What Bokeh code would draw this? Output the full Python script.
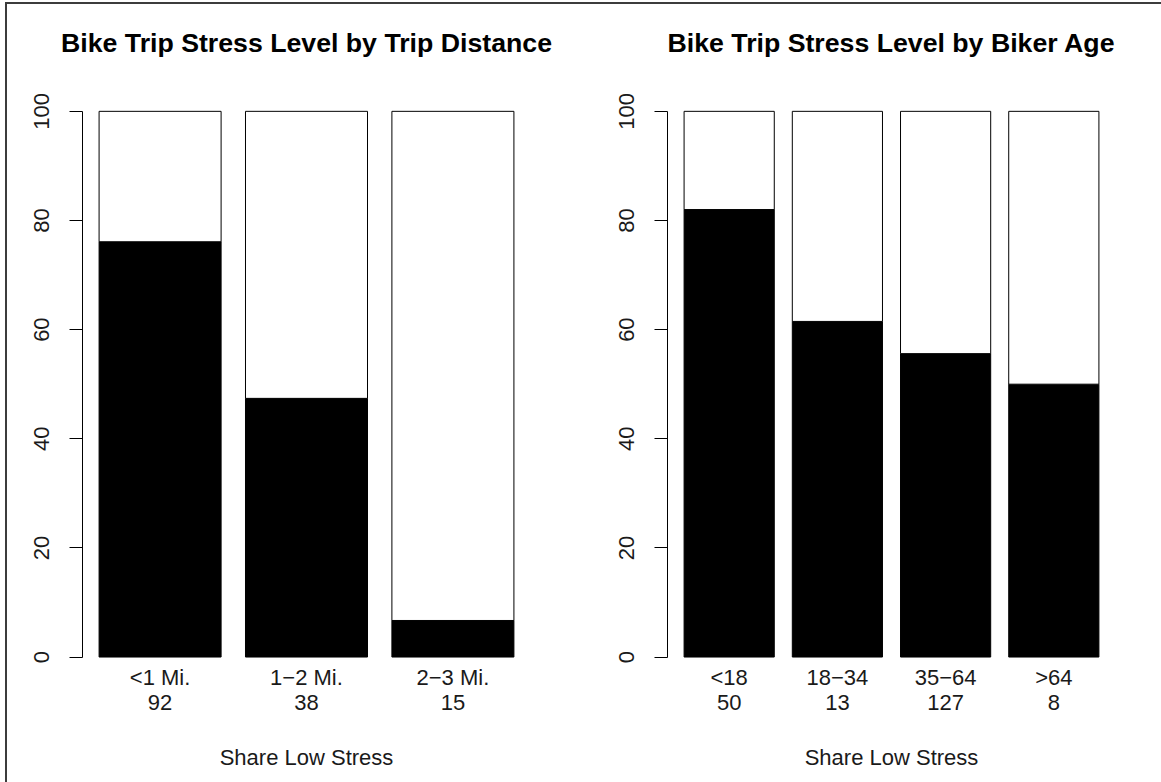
from bokeh.plotting import figure
from bokeh.layouts import row
from bokeh.models import LinearAxis, FixedTicker, Range1d
from bokeh.embed import file_html
from bokeh.resources import INLINE

# ---- data ----
dist_categories = ["<1 Mi.", "1\u22122 Mi.", "2\u22123 Mi."]
dist_n = [92, 38, 15]
dist_share = [76.1, 47.4, 6.7]

age_categories = ["<18", "18\u221234", "35\u221264", ">64"]
age_n = [50, 13, 127, 8]
age_share = [82.0, 61.5, 55.6, 50.0]

y_ticks = [0, 20, 40, 60, 80, 100]

FONT = "Liberation Sans"


def panel(title, cats, counts, shares, width, border_left, border_right):
    k = len(cats)
    centers = [round(0.7 + 1.2 * i, 2) for i in range(k)]
    x0 = 0.2 - 0.04 * (1.2 * k - 0.2)
    x1 = 0.2 + (1.2 * k - 0.2) * 1.04
    p = figure(width=width, height=778, output_backend="svg", toolbar_location=None,
               x_range=Range1d(x0, x1), y_range=Range1d(-1.0, 104.0),
               x_axis_location=None,
               min_border_left=border_left, min_border_right=border_right,
               min_border_top=85, min_border_bottom=120)
    p.outline_line_color = None
    p.xgrid.visible = False
    p.ygrid.visible = False
    p.background_fill_color = "white"
    p.border_fill_color = "white"

    rest = [100 - s for s in shares]
    p.vbar(x=centers, width=1.0, bottom=0, top=shares,
           fill_color="black", line_color="black", line_width=1)
    p.vbar(x=centers, width=1.0, bottom=shares, top=[s + r for s, r in zip(shares, rest)],
           fill_color="white", line_color="black", line_width=1)

    ya = p.yaxis[0]
    ya.ticker = FixedTicker(ticks=y_ticks)
    ya.bounds = (0, 100)
    ya.minor_tick_line_color = None
    ya.major_tick_in = 0
    ya.major_tick_out = 13
    ya.axis_line_color = "black"
    ya.major_tick_line_color = "black"
    ya.major_label_orientation = "vertical"
    ya.major_label_text_font = FONT
    ya.major_label_text_font_size = "22px"
    ya.major_label_text_color = "#1a1a1a"
    ya.major_label_standoff = 20

    ax1 = LinearAxis(ticker=FixedTicker(ticks=centers),
                     major_label_overrides={c: n for c, n in zip(centers, cats)})
    ax2 = LinearAxis(ticker=FixedTicker(ticks=centers),
                     major_label_overrides={c: str(n) for c, n in zip(centers, counts)},
                     axis_label="Share Low Stress")
    for ax in (ax1, ax2):
        ax.axis_line_color = None
        ax.major_tick_line_color = None
        ax.minor_tick_line_color = None
        ax.major_tick_in = 0
        ax.major_tick_out = 0
        ax.major_label_text_font = FONT
        ax.major_label_text_font_size = "22px"
        ax.major_label_text_color = "#1a1a1a"
        ax.major_label_standoff = 2
    ax2.axis_label_text_font = FONT
    ax2.axis_label_text_font_size = "22px"
    ax2.axis_label_text_font_style = "normal"
    ax2.axis_label_text_color = "#1a1a1a"
    ax2.axis_label_standoff = 32
    p.add_layout(ax1, "below")
    p.add_layout(ax2, "below")

    # title, drawn as the label of an empty axis above the frame
    top = LinearAxis(ticker=FixedTicker(ticks=[]), axis_label=title)
    top.axis_line_color = None
    top.major_tick_line_color = None
    top.minor_tick_line_color = None
    top.major_tick_in = 0
    top.major_tick_out = 0
    top.major_label_text_font_size = "0px"
    top.axis_label_text_font = FONT
    top.axis_label_text_font_size = "26.7px"
    top.axis_label_text_font_style = "bold"
    top.axis_label_text_color = "black"
    top.axis_label_standoff = 32
    p.add_layout(top, "above")
    return p


p1 = panel("Bike Trip Stress Level by Trip Distance", dist_categories, dist_n, dist_share,
           width=583, border_left=75, border_right=60)
p2 = panel("Bike Trip Stress Level by Biker Age", age_categories, age_n, age_share,
           width=571, border_left=77, border_right=46)

layout = row(p1, p2, styles={"margin-left": "5px", "margin-top": "2px",
                             "border-left": "2px solid #3c3c3c",
                             "border-top": "2px solid #3c3c3c"})
open("out.html", "w").write(file_html(layout, INLINE))
